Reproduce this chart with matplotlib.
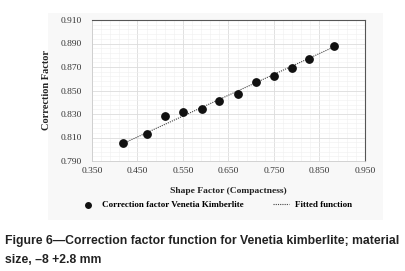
import matplotlib
matplotlib.use("Agg")
import matplotlib.pyplot as plt
import numpy as np
from matplotlib.patches import Rectangle

# measured points (shape factor vs correction factor)
shape_factor = [0.419, 0.470, 0.511, 0.550, 0.591, 0.630, 0.671, 0.710, 0.751, 0.790, 0.828, 0.881]
correction = [0.805, 0.813, 0.828, 0.832, 0.834, 0.841, 0.847, 0.857, 0.862, 0.869, 0.877, 0.888]

# fitted function end points
fit_x = [0.419, 0.881]
fit_y = [0.805, 0.887]

x_ticks = [0.350, 0.450, 0.550, 0.650, 0.750, 0.850, 0.950]
y_ticks = [0.790, 0.810, 0.830, 0.850, 0.870, 0.890, 0.910]

caption = ['Figure 6\u2014Correction factor function for Venetia kimberlite; material',
           'size, \u20138 +2.8 mm']

W, H = 406, 271
fig = plt.figure(figsize=(W / 100, H / 100), dpi=100)
fig.patch.set_facecolor('white')

# light grey panel behind the chart
fig.patches.append(Rectangle((48 / W, 1 - 220 / H), (383 - 48) / W, (220 - 13) / H,
                             transform=fig.transFigure, fc='#f8f8f8', ec='none', zorder=-5))

ax = fig.add_axes([92 / W, 1 - 161 / H, (365 - 92) / W, (161 - 20) / H])
ax.set_zorder(2)
ax.set_facecolor('white')

serif = ['Liberation Serif', 'DejaVu Serif']

ax.set_xlim(0.35, 0.95)
ax.set_ylim(0.79, 0.91)
ax.set_xticks(x_ticks)
ax.set_yticks(y_ticks)
ax.set_xticklabels(['%.3f' % v for v in x_ticks], fontsize=6.8, family=serif)
ax.set_yticklabels(['%.3f' % v for v in y_ticks], fontsize=6.8, family=serif)
ax.set_xticks(np.arange(0.35, 0.951, 0.02), minor=True)
ax.set_yticks(np.arange(0.79, 0.911, 0.004), minor=True)
ax.grid(which='major', color='#dcdcdc', lw=0.6)
ax.grid(which='minor', color='#f0f0f0', lw=0.4)
ax.tick_params(axis='y', which='both', length=0, pad=7, colors='#333333')
ax.tick_params(axis='x', which='both', length=0, pad=4, colors='#333333')
ax.set_axisbelow(True)

for s in ['top', 'right']:
    ax.spines[s].set_color('#555555')
    ax.spines[s].set_linewidth(0.8)
for s in ['left', 'bottom']:
    ax.spines[s].set_color('#cccccc')
    ax.spines[s].set_linewidth(0.6)

ax.plot(fit_x, fit_y, ls=(0, (1, 1)), color='#444444', lw=0.8, label='Fitted function')
ax.scatter(shape_factor, correction, s=28, color='#111111', zorder=3,
           label='Correction factor Venetia Kimberlite')

ax.set_xlabel('Shape Factor (Compactness)', fontsize=6.8, family=serif, fontweight='bold',
              color='#222222', labelpad=9)
ax.set_ylabel('Correction Factor', fontsize=7.5, family=serif, fontweight='bold',
              color='#222222', labelpad=7)

h, l = ax.get_legend_handles_labels()
leg = fig.legend(h[::-1], l[::-1], loc='center', bbox_to_anchor=(216 / W, 1 - 205 / H), ncol=2,
                 frameon=False, prop={'family': serif, 'size': 6.5, 'weight': 'bold'},
                 handlelength=1.8, columnspacing=3.2, handletextpad=0.7, markerscale=0.75)
leg.set_zorder(3)

# caption, two lines placed on their baselines
sans = ['Liberation Sans', 'DejaVu Sans']
for i, line in enumerate(caption):
    fig.text(5 / W, 1 - (244 + 19 * i) / H, line, fontsize=8.8, family=sans,
             color='#222222', va='baseline', ha='left', fontweight='bold')

fig.savefig('out.png', dpi=100)
